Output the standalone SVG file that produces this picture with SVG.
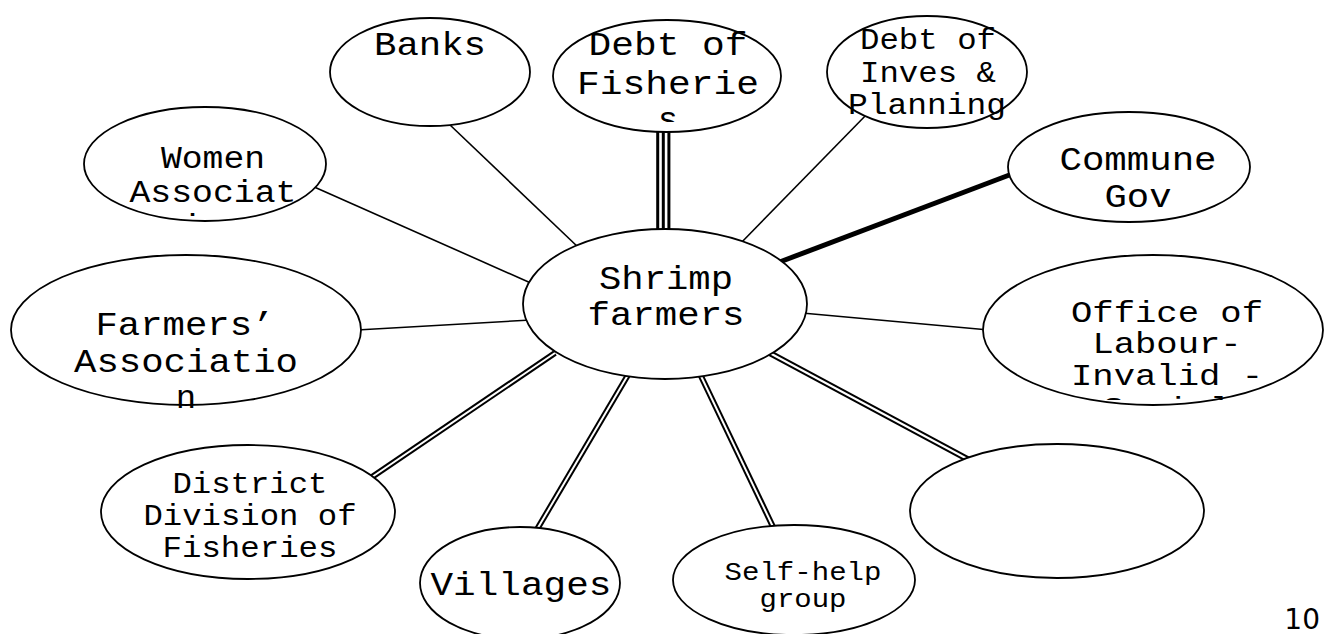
<svg xmlns="http://www.w3.org/2000/svg" width="1325" height="634" viewBox="0 0 1325 634">
<defs>
<style>
.n ellipse{fill:#fff;stroke:#000;stroke-width:1.8}
.n text{font-family:"Liberation Mono","Courier New",monospace;text-anchor:middle;fill:#000}
.s1{stroke:#000;stroke-width:1.6;fill:none}
.thick{stroke:#000;stroke-width:5;fill:none}
.dO{stroke:#000;stroke-width:6;fill:none}
.dI{stroke:#fff;stroke-width:2;fill:none}
.tr{stroke:#000;stroke-width:3;fill:none}
</style>
<clipPath id="clipFish"><rect x="550" y="0" width="240" height="122"/></clipPath>
<clipPath id="clipWomen"><rect x="80" y="100" width="260" height="118"/></clipPath>
<clipPath id="clipOffice"><rect x="980" y="250" width="345" height="150"/></clipPath>
</defs>
<rect width="1325" height="634" fill="#fff"/>
<g id="connectors">
<line class="s1" x1="449" y1="124" x2="579" y2="248"/>
<line class="s1" x1="312" y1="186" x2="533" y2="284"/>
<line class="s1" x1="870" y1="111" x2="738" y2="246"/>
<line class="thick" x1="1012" y1="174" x2="777" y2="263"/>
<line class="s1" x1="802" y1="313" x2="989" y2="330"/>
<line class="s1" x1="357" y1="330" x2="531" y2="320"/>
<line class="tr" x1="657.7" y1="128" x2="657.7" y2="232"/>
<line class="tr" x1="663.3" y1="128" x2="663.3" y2="232"/>
<line class="tr" x1="668.9" y1="128" x2="668.9" y2="232"/>
<line class="dO" x1="372" y1="477" x2="555" y2="353"/>
<line class="dI" x1="372" y1="477" x2="555" y2="353"/>
<line class="dO" x1="536" y1="531" x2="628" y2="375"/>
<line class="dI" x1="536" y1="531" x2="628" y2="375"/>
<line class="dO" x1="775" y1="531" x2="700" y2="374"/>
<line class="dI" x1="775" y1="531" x2="700" y2="374"/>
<line class="dO" x1="766" y1="351" x2="971" y2="461"/>
<line class="dI" x1="766" y1="351" x2="971" y2="461"/>
</g>
<g id="node-shrimp" class="n">
<ellipse cx="665" cy="304" rx="142" ry="75"/>
<text font-size="34" x="666" y="289" textLength="134" lengthAdjust="spacingAndGlyphs">Shrimp</text>
<text font-size="34" x="666" y="325" textLength="157" lengthAdjust="spacingAndGlyphs">farmers</text>
</g>
<g id="node-banks" class="n">
<ellipse cx="430" cy="72" rx="100" ry="54"/>
<text font-size="34" x="430" y="55" textLength="112" lengthAdjust="spacingAndGlyphs">Banks</text>
</g>
<g id="node-fisheries" class="n">
<ellipse cx="667" cy="76" rx="114" ry="56"/>
<g clip-path="url(#clipFish)">
<text font-size="34" x="668" y="55" textLength="159" lengthAdjust="spacingAndGlyphs">Debt of</text>
<text font-size="34" x="668" y="94" textLength="182" lengthAdjust="spacingAndGlyphs">Fisherie</text>
<text font-size="34" x="668" y="130">s</text>
</g>
</g>
<g id="node-inves" class="n">
<ellipse cx="927" cy="72" rx="100" ry="56"/>
<text font-size="30" x="928" y="49" textLength="136" lengthAdjust="spacingAndGlyphs">Debt of</text>
<text font-size="30" x="928" y="82" textLength="136" lengthAdjust="spacingAndGlyphs">Inves &amp;</text>
<text font-size="30" x="927" y="114" textLength="158" lengthAdjust="spacingAndGlyphs">Planning</text>
</g>
<g id="node-commune" class="n">
<ellipse cx="1129" cy="167" rx="121" ry="55"/>
<text font-size="34" x="1138" y="170" textLength="157" lengthAdjust="spacingAndGlyphs">Commune</text>
<text font-size="34" x="1138" y="207" textLength="67" lengthAdjust="spacingAndGlyphs">Gov</text>
</g>
<g id="node-women" class="n">
<ellipse cx="205" cy="164" rx="121" ry="57"/>
<g clip-path="url(#clipWomen)">
<text font-size="31" x="213" y="168" textLength="104" lengthAdjust="spacingAndGlyphs">Women</text>
<text font-size="31" x="213" y="202" textLength="167" lengthAdjust="spacingAndGlyphs">Associat</text>
<text font-size="31" x="213" y="236" textLength="63" lengthAdjust="spacingAndGlyphs">ion</text>
</g>
</g>
<g id="node-farmers" class="n">
<ellipse cx="186" cy="330" rx="175" ry="75"/>
<text font-size="34" x="185" y="335" textLength="179" lengthAdjust="spacingAndGlyphs">Farmers’</text>
<text font-size="34" x="186" y="372" textLength="224" lengthAdjust="spacingAndGlyphs">Associatio</text>
<text font-size="34" x="186" y="408">n</text>
</g>
<g id="node-office" class="n">
<ellipse cx="1153" cy="330" rx="170" ry="75"/>
<g clip-path="url(#clipOffice)">
<text font-size="29.5" x="1167" y="322" textLength="192" lengthAdjust="spacingAndGlyphs">Office of</text>
<text font-size="29.5" x="1167" y="353" textLength="149" lengthAdjust="spacingAndGlyphs">Labour-</text>
<text font-size="29.5" x="1167" y="385" textLength="192" lengthAdjust="spacingAndGlyphs">Invalid -</text>
<text font-size="29.5" x="1167" y="418" textLength="128" lengthAdjust="spacingAndGlyphs">Social</text>
</g>
</g>
<g id="node-district" class="n">
<ellipse cx="248" cy="512" rx="147" ry="67"/>
<text font-size="29.5" x="250" y="493" textLength="155" lengthAdjust="spacingAndGlyphs">District</text>
<text font-size="29.5" x="250" y="525" textLength="213" lengthAdjust="spacingAndGlyphs">Division of</text>
<text font-size="29.5" x="250" y="557" textLength="175" lengthAdjust="spacingAndGlyphs">Fisheries</text>
</g>
<g id="node-villages" class="n">
<ellipse cx="520" cy="583" rx="100" ry="56"/>
<text font-size="34" x="521" y="595" textLength="181" lengthAdjust="spacingAndGlyphs">Villages</text>
</g>
<g id="node-selfhelp" class="n">
<ellipse cx="794" cy="580" rx="121" ry="55"/>
<text font-size="25.5" x="803" y="580" textLength="157" lengthAdjust="spacingAndGlyphs">Self-help</text>
<text font-size="25.5" x="803" y="607" textLength="87" lengthAdjust="spacingAndGlyphs">group</text>
</g>
<g id="node-empty" class="n">
<ellipse cx="1057" cy="511" rx="147" ry="67"/>
</g>
<text x="1320" y="629" font-family="DejaVu Sans, sans-serif" font-size="28" text-anchor="end">10</text>
</svg>
